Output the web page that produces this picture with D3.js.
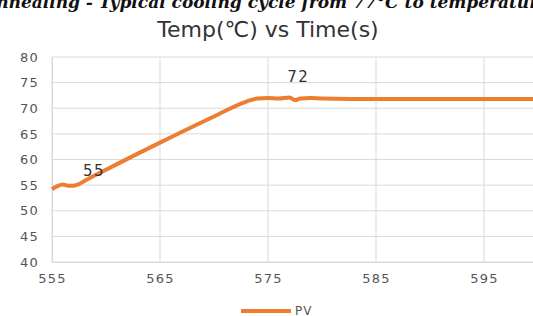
<!DOCTYPE html>
<html lang="en">
<head>
    <meta charset="UTF-8">
    <title>Temp vs Time</title>
    <script src="https://d3js.org/d3.v7.min.js"></script>
    <style>
        body { margin: 0; background: #fff; }
        svg { display: block; }
    </style>
</head>
<body>
    <script>
        // Data
        const times = [555, 555.5, 556, 556.5, 557, 557.5, 558, 560, 565, 570, 573, 574, 575, 576, 577, 577.5, 578, 579, 580, 585, 590, 595, 600];
        const pv = [54.2, 54.8, 55.1, 54.9, 54.9, 55.2, 55.8, 58.0, 63.3, 68.4, 71.3, 71.9, 72, 71.9, 72.1, 71.6, 71.9, 72.0, 71.9, 71.8, 71.8, 71.8, 71.8];
        const xTicks = [555, 565, 575, 585, 595];
        const yTicks = [40, 45, 50, 55, 60, 65, 70, 75, 80];
        const labels = [{ t: 558.9, v: 56.7, text: '55' }, { t: 577.8, v: 75.2, text: '72' }];

        const width = 533;
        const height = 316;
        const font = 'DejaVu Sans, sans-serif';
        const svg = d3.select('body')
            .append('svg')
            .attr('width', width)
            .attr('height', height);

        const x = d3.scaleLinear().domain([555, 600]).range([52, 538]);
        const y = d3.scaleLinear().domain([40, 80]).range([262, 57]);

        // Cut-off caption line at the top
        svg.append('text')
            .attr('x', 266)
            .attr('y', 8)
            .attr('text-anchor', 'middle')
            .attr('font-family', 'DejaVu Serif, serif')
            .attr('font-style', 'italic')
            .attr('font-weight', 'bold')
            .attr('font-size', 17)
            .attr('fill', '#111')
            .text('Annealing - Typical cooling cycle from 77°C to temperature');

        // Title
        svg.append('text')
            .attr('x', 268)
            .attr('y', 37)
            .attr('text-anchor', 'middle')
            .attr('font-family', font)
            .attr('font-size', 22)
            .attr('fill', '#333')
            .text('Temp(℃) vs Time(s)');

        // Gridlines
        svg.append('g')
            .selectAll('line')
            .data(yTicks)
            .enter()
            .append('line')
            .attr('x1', 52)
            .attr('x2', width)
            .attr('y1', d => y(d))
            .attr('y2', d => y(d))
            .attr('stroke', '#d9d9d9');

        svg.append('g')
            .selectAll('line')
            .data(xTicks)
            .enter()
            .append('line')
            .attr('x1', d => x(d))
            .attr('x2', d => x(d))
            .attr('y1', y(80))
            .attr('y2', y(40))
            .attr('stroke', '#d9d9d9');

        // Axes
        const yAxis = svg.append('g')
            .attr('transform', 'translate(52,0)')
            .call(d3.axisLeft(y).tickValues(yTicks).tickSize(0).tickPadding(13));
        yAxis.select('.domain').attr('stroke', '#d9d9d9');

        const xAxis = svg.append('g')
            .attr('transform', `translate(0,${y(40)})`)
            .call(d3.axisBottom(x).tickValues(xTicks).tickSize(0).tickPadding(12));
        xAxis.select('.domain').attr('stroke', '#d9d9d9');

        svg.selectAll('.tick text')
            .attr('font-family', font)
            .attr('font-size', 13)
            .attr('letter-spacing', 1.2)
            .attr('fill', '#555');

        // Series line
        const line = d3.line()
            .x((d, i) => x(times[i]))
            .y(d => y(d))
            .curve(d3.curveMonotoneX);

        svg.append('path')
            .datum(pv)
            .attr('d', line)
            .attr('fill', 'none')
            .attr('stroke', '#ED7D31')
            .attr('stroke-width', 4)
            .attr('stroke-linejoin', 'round');

        // Data labels
        svg.selectAll('.dlabel')
            .data(labels)
            .enter()
            .append('text')
            .attr('class', 'dlabel')
            .attr('x', d => x(d.t))
            .attr('y', d => y(d.v))
            .attr('text-anchor', 'middle')
            .attr('font-family', font)
            .attr('font-size', 15)
            .attr('letter-spacing', 1.5)
            .attr('fill', '#333')
            .text(d => d.text);

        // Legend
        svg.append('line')
            .attr('x1', 241)
            .attr('x2', 291)
            .attr('y1', 311)
            .attr('y2', 311)
            .attr('stroke', '#ED7D31')
            .attr('stroke-width', 4);

        svg.append('text')
            .attr('x', 295)
            .attr('y', 315)
            .attr('font-family', font)
            .attr('font-size', 12)
            .attr('letter-spacing', 1)
            .attr('fill', '#555')
            .text('PV');
    </script>
</body>
</html>
